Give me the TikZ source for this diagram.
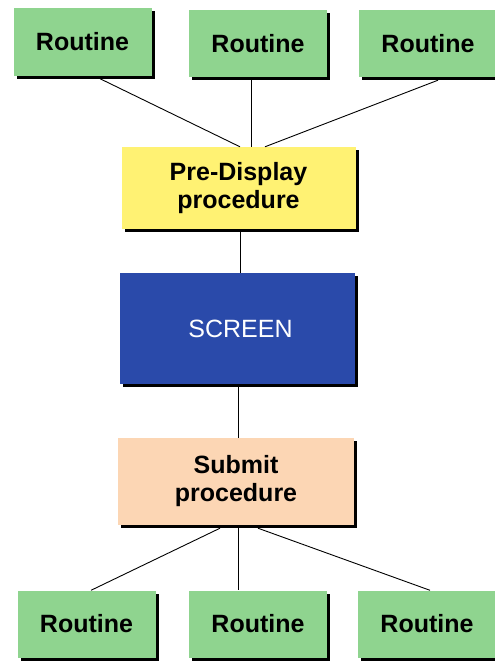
\documentclass[tikz,border=0pt]{standalone}
\usepackage{fontspec}
\setmainfont{Liberation Sans}
\usetikzlibrary{shadows,calc}

\definecolor{routinegreen}{RGB}{143,212,143}
\definecolor{preyellow}{RGB}{255,242,115}
\definecolor{screenblue}{RGB}{42,74,170}
\definecolor{submitpeach}{RGB}{252,214,180}

\tikzset{
  box/.style={rectangle, inner sep=0pt, draw=none,
    drop shadow={shadow xshift=3pt, shadow yshift=-3pt, fill=black, opacity=1},
    font=\fontsize{25}{28}\selectfont\bfseries, align=center},
  routine/.style={box, fill=routinegreen, minimum width=138pt, minimum height=67pt},
  proc/.style={box, minimum width=234pt},
  link/.style={draw=black, line width=0.9pt}
}

\begin{document}
\begin{tikzpicture}[x=1pt, y=-1pt]
  \useasboundingbox (0,0) rectangle (495,661);
  \clip (0,0) rectangle (495,661);

  % top row of routines
  \node[routine] (t1) at (82.5,42)   {Routine};
  \node[routine] (t2) at (258,43.5)  {Routine};
  \node[routine] (t3) at (428,43.5)  {Routine};

  % central column
  \node[proc, fill=preyellow, minimum height=82pt] (pre) at (238.5,188)
    {Pre-Display\\procedure};
  \node[proc, fill=screenblue, minimum width=235pt, minimum height=111pt,
        text=white, font=\fontsize{25}{28}\selectfont] (scr) at (237.5,328.5)
    {\hspace*{6pt}SCREEN};
  \node[proc, fill=submitpeach, minimum width=236pt, minimum height=87pt] (sub) at (236,481.5)
    {Submit\\procedure};

  % bottom row of routines
  \node[routine] (b1) at (86.5,624) {Routine};
  \node[routine] (b2) at (258,624)  {Routine};
  \node[routine] (b3) at (427,624)  {Routine};

  % connectors above the pre-display procedure
  \draw[link] ($(t1.south)+(17.5,3)$) -- ($(pre.north)+(1.5,0)$);
  \draw[link] ($(t2.south)+(-7,3)$)   -- ($(pre.north)+(12.5,0)$);
  \draw[link] ($(t3.south)+(10,3)$)   -- ($(pre.north)+(26.5,0)$);

  % central column links
  \draw[link] ($(pre.south)+(1.5,3)$) -- ($(scr.north)+(2.5,0)$);
  \draw[link] ($(scr.south)+(0.5,3)$) -- ($(sub.north)+(2,0)$);

  % connectors below the submit procedure
  \draw[link] ($(sub.south)+(-16,3)$) -- ($(b1.north)+(4.5,0)$);
  \draw[link] ($(sub.south)+(2,3)$)   -- ($(b2.north)+(-20,0)$);
  \draw[link] ($(sub.south)+(22,3)$)  -- ($(b3.north)+(3,0)$);
\end{tikzpicture}
\end{document}
